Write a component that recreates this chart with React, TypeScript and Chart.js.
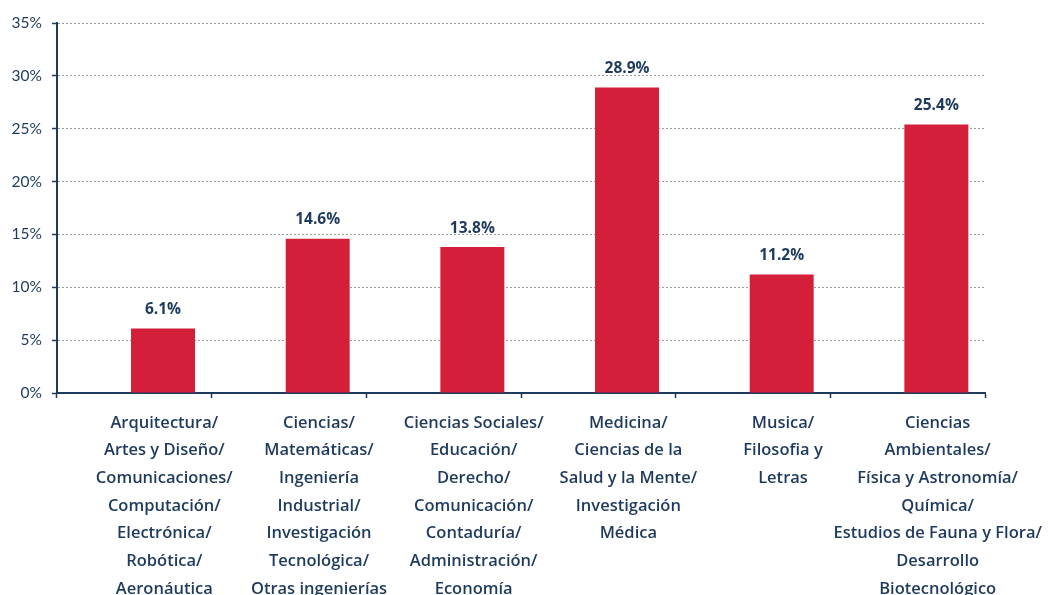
import React, { useEffect, useRef } from "react";
import { Chart, registerables } from "chart.js";

Chart.register(...registerables);

const categories: string[][] = [
  ["Arquitectura/", "Artes y Diseño/", "Comunicaciones/", "Computación/", "Electrónica/", "Robótica/", "Aeronáutica"],
  ["Ciencias/", "Matemáticas/", "Ingeniería", "Industrial/", "Investigación", "Tecnológica/", "Otras ingenierías"],
  ["Ciencias Sociales/", "Educación/", "Derecho/", "Comunicación/", "Contaduría/", "Administración/", "Economía"],
  ["Medicina/", "Ciencias de la", "Salud y la Mente/", "Investigación", "Médica"],
  ["Musica/", "Filosofia y", "Letras"],
  ["Ciencias", "Ambientales/", "Física y Astronomía/", "Química/", "Estudios de Fauna y Flora/", "Desarrollo", "Biotecnológico"],
];
const values: number[] = [6.1, 14.6, 13.8, 28.9, 11.2, 25.4];
const spacerValues: (number | null)[] = [null, null, null, null, null, null];
const yMax = 35;
const yStep = 5;

const NAVY = "#1e3a5c";
const RED = "#d41f3a";

const valueLabels = {
  id: "valueLabels",
  afterDatasetsDraw(chart: any) {
    const meta = chart.getDatasetMeta(1);
    const ctx = chart.ctx;
    ctx.save();
    ctx.fillStyle = NAVY;
    ctx.font = "bold 15.5px 'Open Sans', sans-serif";
    ctx.textAlign = "center";
    ctx.textBaseline = "middle";
    meta.data.forEach((bar: any, i: number) => {
      ctx.fillText(values[i].toFixed(1) + "%", bar.x, bar.y - 19);
    });
    ctx.restore();
  },
};

export default function App() {
  const ref = useRef<HTMLCanvasElement | null>(null);
  useEffect(() => {
    if (!ref.current) return;
    const chart = new Chart(ref.current, {
      type: "bar",
      data: {
        labels: categories,
        datasets: [
          { data: spacerValues as any, backgroundColor: "transparent" },
          {
            data: values,
            backgroundColor: RED,
            categoryPercentage: 0.742,
            barPercentage: 1.115,
          },
        ],
      },
      options: {
        animation: false,
        responsive: false,
        maintainAspectRatio: false,
        datasets: { bar: { categoryPercentage: 0.742, barPercentage: 1.115 } },
        layout: { padding: { top: 23, right: 63, left: 0, bottom: 0 } },
        plugins: { legend: { display: false }, tooltip: { enabled: false } },
        scales: {
          x: {
            grid: {
              display: true,
              drawOnChartArea: false,
              drawTicks: true,
              tickLength: 5,
              tickColor: NAVY,
              tickWidth: 1.5,
              offset: true,
            },
            border: { display: true, color: NAVY, width: 2 },
            ticks: {
              color: NAVY,
              font: { family: "'Open Sans', sans-serif", size: 16.5, weight: "600", lineHeight: 1.68 },
              maxRotation: 0,
              minRotation: 0,
              autoSkip: false,
              labelOffset: 30,
              padding: 11,
            },
            afterFit: (scale: any) => {
              scale.height = 217;
            },
          },
          y: {
            min: 0,
            max: yMax,
            grid: {
              color: "#9a9a9a",
              lineWidth: 1,
              drawTicks: true,
              tickLength: 5,
              tickColor: NAVY,
              tickWidth: 1.5,
              tickBorderDash: [],
            },
            border: { display: true, color: NAVY, width: 2, dash: [2, 2] },
            ticks: {
              stepSize: yStep,
              color: NAVY,
              padding: 10,
              font: { family: "Lato, sans-serif", size: 15.5, weight: "400" },
              callback: (v: any) => v + "%",
            },
            afterFit: (scale: any) => {
              scale.width = 57;
            },
          },
        },
      },
      plugins: [valueLabels],
    });
    return () => chart.destroy();
  }, []);
  return (
    <div style={{ position: "absolute", left: 0, top: 0, width: 1048, height: 610 }}>
      <canvas ref={ref} width={1048} height={610} style={{ width: 1048, height: 610 }} />
    </div>
  );
}
